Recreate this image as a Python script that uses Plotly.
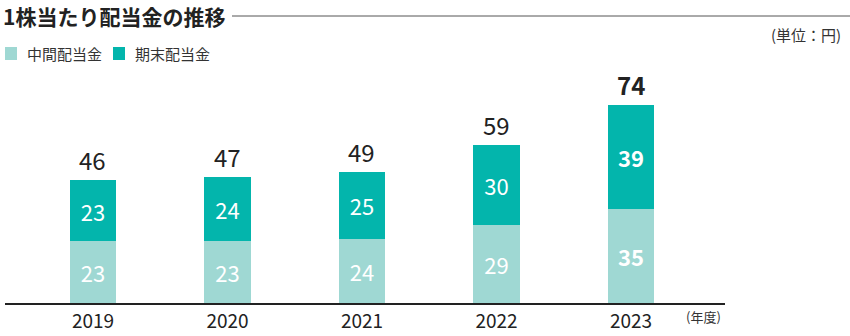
import plotly.graph_objects as go

years = ["2019", "2020", "2021", "2022", "2023"]
interim = [23, 23, 24, 29, 35]
final = [23, 24, 25, 30, 39]
totals = [46, 47, 49, 59, 74]

LIGHT = "#9fd8d3"
DARK = "#03b5ac"
FONT = "Noto Sans CJK JP"

# plot area in pixels
PL, PR, PT, PB = 5, 725, 60, 303
W, H = PR - PL, PB - PT

def px(x):
    return (x - PL) / W

def py(y):
    return (PB - y) / H

def lbl(vals):
    return [f"<b>{v}</b>" if i == len(vals) - 1 else str(v) for i, v in enumerate(vals)]

fig = go.Figure()
fig.add_trace(go.Bar(x=years, y=interim, name="中間配当金", marker=dict(color=LIGHT, line=dict(width=0)),
                     text=lbl(interim), textposition="inside", insidetextanchor="middle",
                     textfont=dict(color="white", size=22, family=FONT), width=0.345))
fig.add_trace(go.Bar(x=years, y=final, name="期末配当金", marker=dict(color=DARK, line=dict(width=0)),
                     text=lbl(final), textposition="inside", insidetextanchor="middle",
                     textfont=dict(color="white", size=22, family=FONT), width=0.345))

for i, (t, s) in enumerate(zip(totals, lbl(totals))):
    fig.add_annotation(x=i, y=t, text=s, showarrow=False, yanchor="bottom", yshift=1,
                       font=dict(size=24, color="#222222", family=FONT))

fig.update_layout(
    width=850, height=336, barmode="stack", showlegend=False,
    margin=dict(l=PL, r=850 - PR, t=PT, b=336 - PB, pad=0, autoexpand=False),
    paper_bgcolor="white", plot_bgcolor="white",
    font=dict(family=FONT, color="#222222"),
    xaxis=dict(range=[-0.654, 4.699], showline=True, linecolor="#222222", linewidth=1.5, automargin=False,
               ticks="", tickfont=dict(size=19, color="#222222", family=FONT), showgrid=False, fixedrange=True),
    yaxis=dict(range=[0, 90.8], visible=False, showgrid=False),
)

# title and decorative line
fig.add_annotation(xref="paper", yref="paper", x=px(1), y=py(16), xanchor="left", yanchor="middle",
                   text="<b>1株当たり配当金の推移</b>", showarrow=False,
                   font=dict(size=21, color="#222222", family=FONT))
fig.add_shape(type="line", xref="paper", yref="paper", x0=px(232), x1=px(850), y0=py(16), y1=py(16),
              line=dict(color="#555555", width=1))

fig.add_annotation(xref="paper", yref="paper", x=px(843), y=py(34), xanchor="right", yanchor="middle",
                   text="(単位：円)", showarrow=False, font=dict(size=15, color="#333333", family=FONT))

# legend
for nm, col, x0 in [("中間配当金", LIGHT, 5), ("期末配当金", DARK, 113)]:
    fig.add_shape(type="rect", xref="paper", yref="paper",
                  x0=px(x0), x1=px(x0 + 12), y0=py(60), y1=py(47), line=dict(width=0), fillcolor=col)
    fig.add_annotation(xref="paper", yref="paper", x=px(x0 + 20), y=py(53.5), xanchor="left", yanchor="middle",
                       text=nm, showarrow=False, font=dict(size=15, color="#333333", family=FONT))

fig.add_annotation(xref="paper", yref="paper", x=px(684), y=py(316), xanchor="left", yanchor="middle",
                   text="(年度)", showarrow=False, font=dict(size=13, color="#333333", family=FONT))

fig.write_html("out.html")
